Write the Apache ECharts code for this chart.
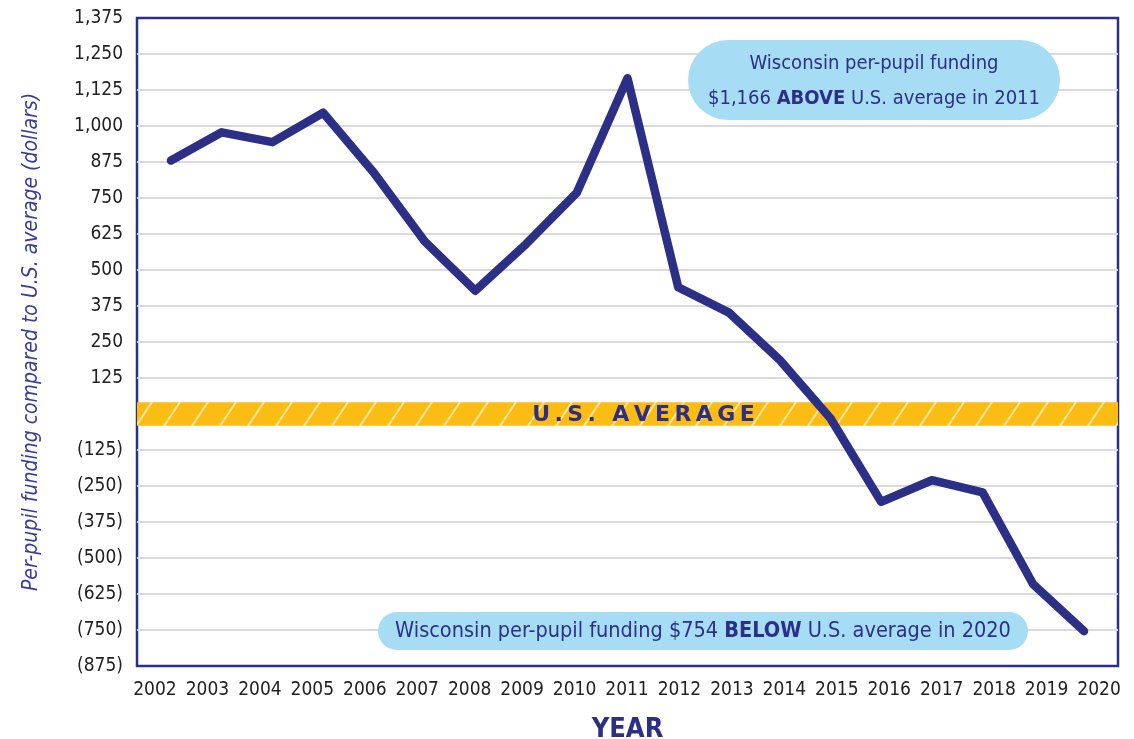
<!DOCTYPE html>
<html>
<head>
<meta charset="utf-8">
<title>Wisconsin per-pupil funding vs U.S. average</title>
<script src="https://cdn.jsdelivr.net/npm/echarts@6.0.0/dist/echarts.min.js"></script>
<style>
  html, body { margin: 0; padding: 0; background: #fff; }
  #chart { width: 1134px; height: 739px; }
</style>
</head>
<body>
<div id="chart"></div>
<script>
// data (dollars above / below U.S. average)
const years = [2002, 2003, 2004, 2005, 2006, 2007, 2008, 2009, 2010, 2011,
  2012, 2013, 2014, 2015, 2016, 2017, 2018, 2019, 2020];
const fundingGap = [880, 978, 944, 1046, 838, 600, 428, 590, 768, 1166,
  440, 352, 188, -15, -305, -230, -272, -592, -754];
const averageBand = [-41, 41];

const NAVY = "#2c2f86";
const FONT = "'Liberation Sans Narrow', 'DejaVu Sans Condensed', Roboto, sans-serif";

// diagonal stripes for the U.S. average band
function stripePattern() {
  const w = 28, h = 42;
  const c = document.createElement("canvas");
  c.width = w;
  c.height = h;
  const ctx = c.getContext("2d");
  ctx.fillStyle = "#fbbc16";
  ctx.fillRect(0, 0, w, h);
  ctx.strokeStyle = "rgba(255, 236, 170, 0.9)";
  ctx.lineWidth = 2;
  for (let k = -1; k <= 1; k++) {
    ctx.beginPath();
    ctx.moveTo(k * w, h);
    ctx.lineTo(k * w + w, 0);
    ctx.stroke();
  }
  return c;
}

function yLabel(v) {
  if (v === 0) return "";
  const s = Math.abs(v).toLocaleString("en-US");
  return v < 0 ? "(" + s + ")" : s;
}

// spaced-out caps for the band title
const bandTitle = "U.S. AVERAGE".split("").join("\u2009");

let chart = echarts.init(document.getElementById("chart"));
const option = {
  backgroundColor: "#fff",
  animation: false,
  grid: {
    left: 137,
    right: 16,
    top: 18,
    bottom: 73,
    outerBoundsMode: "none",
    show: true,
    borderColor: NAVY,
    borderWidth: 2.5,
    backgroundColor: "#fff",
  },
  xAxis: [
    {
      // axis with the year labels
      type: "value",
      min: 2001.657,
      max: 2020.362,
      axisLine: { show: false },
      axisTick: { show: false },
      splitLine: { show: false },
      axisLabel: {
        customValues: years,
        formatter: (v) => String(v),
        color: "#222",
        fontFamily: FONT,
        fontSize: 19,
        margin: 15,
      },
      name: "YEAR",
      nameLocation: "middle",
      nameGap: 50,
      nameTextStyle: {
        color: NAVY,
        fontFamily: FONT,
        fontWeight: "bold",
        fontSize: 27,
      },
    },
    {
      // data axis (points sit slightly inside the labels)
      type: "value",
      min: 2001.33,
      max: 2020.67,
      show: false,
    },
  ],
  yAxis: {
    type: "value",
    min: -875,
    max: 1375,
    interval: 125,
    axisLine: { show: false },
    axisTick: { show: false },
    splitLine: {
      showMinLine: false,
      showMaxLine: false,
      lineStyle: { color: "#dadada", width: 2 },
    },
    axisLabel: {
      formatter: yLabel,
      color: "#222",
      fontFamily: FONT,
      fontSize: 19,
      margin: 14,
    },
    name: "Per-pupil funding compared to U.S. average (dollars)",
    nameLocation: "middle",
    nameGap: 95,
    nameTextStyle: {
      color: "#3a3d98",
      fontFamily: FONT,
      fontStyle: "italic",
      fontSize: 21,
    },
  },
  series: [
    {
      type: "line",
      xAxisIndex: 1,
      data: years.map((y, i) => [y, fundingGap[i]]),
      symbol: "none",
      lineStyle: { color: NAVY, width: 8.5, cap: "round", join: "round" },
      z: 5,
      markArea: {
        silent: true,
        itemStyle: {
          color: { image: stripePattern(), repeat: "repeat" },
        },
        label: {
          show: true,
          position: "inside",
          offset: [16, 1],
          formatter: bandTitle,
          color: NAVY,
          fontFamily: "'DejaVu Sans', sans-serif",
          fontWeight: "bold",
          fontSize: 22,
        },
        data: [[{ yAxis: averageBand[0] }, { yAxis: averageBand[1] }]],
      },
    },
  ],
  graphic: [
    {
      type: "group",
      left: 688,
      top: 40,
      z: 100,
      children: [
        {
          type: "rect",
          z: 100,
          shape: { x: 0, y: 0, width: 372, height: 80, r: 40 },
          style: { fill: "#a6ddf5" },
        },
        {
          type: "text",
          z: 101,
          x: 186,
          y: 41,
          style: {
            text: "{a|Wisconsin per-pupil funding}\n{a|$1,166 }{b|ABOVE}{a| U.S. average in 2011}",
            align: "center",
            verticalAlign: "middle",
            lineHeight: 35,
            rich: {
              a: { fontFamily: FONT, fontSize: 20, fill: NAVY, lineHeight: 35 },
              b: { fontFamily: FONT, fontSize: 20, fontWeight: "bold", fill: NAVY, lineHeight: 35 },
            },
          },
        },
      ],
    },
    {
      type: "group",
      left: 378,
      top: 612,
      z: 100,
      children: [
        {
          type: "rect",
          z: 100,
          shape: { x: 0, y: 0, width: 650, height: 38, r: 19 },
          style: { fill: "#a6ddf5" },
        },
        {
          type: "text",
          z: 101,
          x: 325,
          y: 19,
          style: {
            text: "{a|Wisconsin per-pupil funding $754 }{b|BELOW}{a| U.S. average in 2020}",
            align: "center",
            verticalAlign: "middle",
            rich: {
              a: { fontFamily: FONT, fontSize: 21.5, fill: NAVY },
              b: { fontFamily: FONT, fontSize: 21.5, fontWeight: "bold", fill: NAVY },
            },
          },
        },
      ],
    },
  ],
};

chart.setOption(option);
window.addEventListener("resize", () => {
  chart.resize();
});
</script>
</body>
</html>
